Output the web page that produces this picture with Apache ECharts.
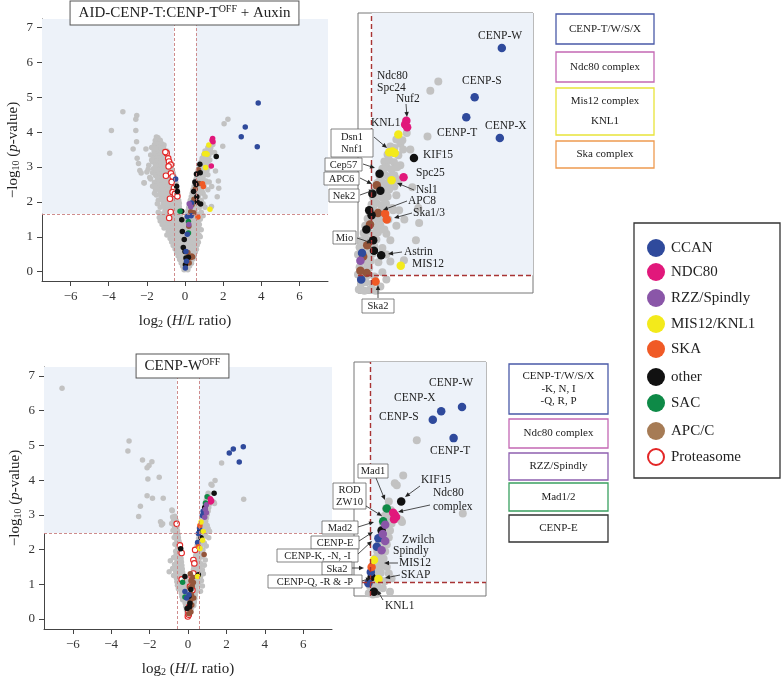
<!DOCTYPE html>
<html><head><meta charset="utf-8">
<script src="https://cdn.jsdelivr.net/npm/echarts@6/dist/echarts.min.js"></script>
<style>html,body{margin:0;padding:0;background:#fff}#c{width:781px;height:678px}</style>
</head><body><div id="c"></div>
<script>
// ---------------- data ----------------
const xTicks = [-6, -4, -2, 0, 2, 4, 6];
const yTicks = [0, 1, 2, 3, 4, 5, 6, 7];
const foldCut = 0.585;           // log2(1.5)
const topThreshold = 1.66;
const botThreshold = 2.48;
const topTitle = 'AID-CENP-T:CENP-T{sup|OFF} + Auxin';
const botTitle = 'CENP-W{sup|OFF}';
const legendNames = ['CCAN','NDC80','RZZ/Spindly','MIS12/KNL1','SKA','other','SAC','APC/C','Proteasome'];

const topGray = [
[-1.5,3.86],[-1.42,3.84],
[-1.56,3.76],[-1.43,3.74],[-1.3,3.77],
[-1.6,3.65],[-1.46,3.66],[-1.35,3.64],[-1.22,3.67],[-1.1,3.63],
[-1.75,3.56],[-1.55,3.54],[-1.4,3.57],[-1.25,3.55],[-1.12,3.53],
[-1.62,3.46],[-1.48,3.44],[-1.35,3.47],[-1.2,3.45],[-1.08,3.43],[-0.95,3.46],
[-1.8,3.35],[-1.55,3.36],[-1.4,3.34],[-1.28,3.37],[-1.15,3.33],[-1.02,3.36],
[-1.65,3.26],[-1.5,3.24],[-1.36,3.27],[-1.22,3.25],[-1.1,3.23],[-0.95,3.26],[-1.75,3.2],
[-1.7,3.15],[-1.45,3.17],[-1.3,3.14],[-1.18,3.16],[-1.05,3.13],[-0.8,3.15],
[-1.9,3.05],[-1.55,3.06],[-1.4,3.04],[-1.25,3.07],[-1.12,3.03],[-0.98,3.05],[-0.72,3.02],
[-1.65,2.95],[-1.6,2.95],[-1.45,2.97],[-1.32,2.94],[-1.2,2.96],[-1.05,2.93],[-0.9,2.95],[-0.68,2.92],
[-2.0,2.86],[-1.7,2.84],[-1.5,2.87],[-1.35,2.85],[-1.22,2.83],[-1.1,2.86],[-0.95,2.84],[-0.62,2.82],
[-1.55,2.76],[-1.4,2.74],[-1.28,2.77],[-1.15,2.75],[-1.02,2.73],[-0.88,2.76],[-0.58,2.74],[-1.85,2.7],
[-1.8,2.66],[-1.45,2.64],[-1.32,2.67],[-1.2,2.65],[-1.08,2.63],[-0.95,2.66],[-0.8,2.64],[-0.52,2.65],
[-2.15,2.55],[-1.6,2.56],[-1.38,2.54],[-1.25,2.57],[-1.12,2.53],[-0.98,2.56],[-0.85,2.54],[-0.6,2.57],[-0.48,2.55],
[-1.7,2.45],[-1.5,2.45],[-1.3,2.47],[-1.18,2.44],[-1.05,2.46],[-0.92,2.43],[-0.78,2.46],[-0.55,2.44],[-0.45,2.46],
[-1.55,2.35],[-1.35,2.35],[-1.22,2.37],[-1.1,2.34],[-0.98,2.36],[-0.85,2.33],[-0.72,2.36],[-0.5,2.34],[-0.42,2.36],
[-1.6,2.25],[-1.3,2.26],[-1.15,2.24],[-1.02,2.27],[-0.9,2.23],[-0.78,2.26],[-0.65,2.24],[-0.5,2.26],[-0.38,2.24],
[-1.5,2.2],[-1.25,2.15],[-1.12,2.17],[-1.0,2.14],[-0.88,2.16],[-0.75,2.13],[-0.62,2.16],[-0.48,2.14],[-0.36,2.16],
[-1.4,2.05],[-1.2,2.06],[-1.05,2.04],[-0.92,2.07],[-0.8,2.03],[-0.68,2.06],[-0.55,2.04],[-0.42,2.06],[-0.33,2.04],
[-1.45,1.95],[-1.15,1.95],[-1.02,1.97],[-0.9,1.94],[-0.78,1.96],[-0.65,1.93],[-0.52,1.96],[-0.4,1.94],[-0.3,1.96],
[-1.3,1.85],[-1.08,1.86],[-0.95,1.84],[-0.82,1.87],[-0.7,1.83],[-0.58,1.86],[-0.45,1.84],[-0.3,1.86],
[-1.4,1.7],[-1.05,1.75],[-0.92,1.77],[-0.8,1.74],[-0.68,1.76],[-0.55,1.73],[-0.42,1.76],[-0.28,1.74],
[-1.2,1.65],[-0.98,1.66],[-0.85,1.64],[-0.72,1.67],[-0.6,1.63],[-0.48,1.66],[-0.36,1.64],[-0.25,1.66],
[-1.35,1.55],[-1.1,1.55],[-0.95,1.56],[-0.82,1.54],[-0.7,1.57],[-0.58,1.53],[-0.46,1.56],[-0.34,1.54],[-0.22,1.56],
[-1.3,1.45],[-1.15,1.46],[-1.0,1.44],[-0.86,1.46],[-0.72,1.43],[-0.58,1.46],[-0.44,1.44],[-0.3,1.46],[-0.16,1.44],[-0.02,1.46],[0.12,1.44],[0.26,1.46],[0.4,1.44],[0.54,1.46],[0.68,1.44],
[-1.2,1.35],[-1.05,1.36],[-0.9,1.34],[-0.76,1.36],[-0.62,1.33],[-0.48,1.36],[-0.34,1.34],[-0.2,1.36],[-0.06,1.34],[0.08,1.36],[0.22,1.34],[0.36,1.36],[0.5,1.34],[0.64,1.36],
[-1.1,1.25],[-0.95,1.26],[-0.8,1.24],[-0.66,1.26],[-0.52,1.23],[-0.38,1.26],[-0.24,1.24],[-0.1,1.26],[0.04,1.24],[0.18,1.26],[0.32,1.24],[0.46,1.26],[0.6,1.24],[0.72,1.26],
[-0.88,1.15],[-0.74,1.16],[-0.6,1.14],[-0.46,1.16],[-0.32,1.13],[-0.18,1.16],[-0.04,1.14],[0.1,1.16],[0.24,1.14],[0.38,1.16],[0.52,1.14],[0.66,1.16],
[-0.95,1.05],[-0.8,1.06],[-0.66,1.04],[-0.52,1.06],[-0.38,1.03],[-0.24,1.06],[-0.1,1.04],[0.04,1.06],[0.18,1.04],[0.32,1.06],[0.46,1.04],[0.6,1.06],[0.74,1.04],
[-0.78,0.95],[-0.64,0.96],[-0.5,0.94],[-0.36,0.96],[-0.22,0.93],[-0.08,0.96],[0.06,0.94],[0.2,0.96],[0.34,0.94],[0.48,0.96],[0.62,0.94],
[-0.7,0.85],[-0.56,0.86],[-0.42,0.84],[-0.28,0.86],[-0.14,0.83],[0.0,0.86],[0.14,0.84],[0.28,0.86],[0.42,0.84],[0.56,0.86],[0.7,0.84],
[-0.62,0.75],[-0.48,0.76],[-0.34,0.74],[-0.2,0.76],[-0.06,0.73],[0.08,0.76],[0.22,0.74],[0.36,0.76],[0.5,0.74],[0.64,0.76],
[-0.52,0.65],[-0.38,0.66],[-0.24,0.64],[-0.1,0.66],[0.04,0.63],[0.18,0.66],[0.32,0.64],[0.46,0.66],[0.6,0.64],
[-0.44,0.55],[-0.3,0.56],[-0.16,0.54],[-0.02,0.56],[0.12,0.53],[0.26,0.56],[0.4,0.54],[0.54,0.56],
[-0.36,0.45],[-0.22,0.46],[-0.08,0.44],[0.06,0.46],[0.2,0.43],[0.34,0.46],[0.48,0.44],
[-0.28,0.35],[-0.14,0.36],[0.0,0.34],[0.14,0.36],[0.28,0.33],[0.42,0.36],
[-0.2,0.25],[-0.06,0.26],[0.08,0.24],[0.22,0.26],[0.34,0.24],
[-0.12,0.15],[0.0,0.16],[0.12,0.14],[0.24,0.16],
[-0.05,0.05],[0.05,0.06],[0.15,0.05],
[1.2,3.56],[1.3,3.5],[1.35,3.55],
[1.05,3.46],[1.15,3.44],
[0.98,3.35],[1.1,3.37],[1.25,3.34],
[0.9,3.25],[1.02,3.27],[1.14,3.24],[1.3,3.2],
[0.85,3.15],[0.96,3.17],[1.08,3.14],
[0.78,3.05],[0.9,3.07],[1.0,3.04],[1.15,3.06],[1.25,3.0],
[0.72,2.95],[0.84,2.97],[0.95,2.94],[1.08,2.96],
[0.68,2.85],[0.8,2.87],[0.92,2.84],[1.02,2.86],[1.15,2.9],
[0.62,2.75],[0.74,2.77],[0.86,2.74],[0.98,2.76],[1.2,2.78],
[0.58,2.65],[0.7,2.67],[0.82,2.64],[0.94,2.66],[1.1,2.6],
[0.52,2.55],[0.64,2.57],[0.76,2.54],[0.88,2.56],
[0.48,2.45],[0.6,2.47],[0.72,2.44],[0.84,2.46],[1.0,2.44],
[0.42,2.35],[0.55,2.37],[0.68,2.34],[0.8,2.36],[1.2,2.35],
[0.38,2.25],[0.5,2.27],[0.62,2.24],[0.74,2.26],[0.95,2.24],[0.9,2.3],
[0.33,2.15],[0.45,2.17],[0.57,2.14],[0.7,2.16],[1.05,2.15],
[0.28,2.05],[0.4,2.07],[0.52,2.04],[0.65,2.06],[0.85,2.04],
[0.24,1.95],[0.36,1.97],[0.48,1.94],[0.6,1.96],[0.95,1.95],
[0.2,1.85],[0.32,1.87],[0.44,1.84],[0.56,1.86],[0.75,1.84],[1.05,1.85],
[0.16,1.75],[0.28,1.77],[0.4,1.74],[0.52,1.76],[0.85,1.7],
[0.12,1.65],[0.24,1.67],[0.36,1.64],[0.48,1.66],[0.65,1.64],[0.95,1.6],
[0.08,1.55],[0.2,1.57],[0.32,1.54],[0.44,1.56],[0.6,1.54],[0.8,1.5],
[0.75,1.35],[0.85,1.2],[0.8,1.0],
[-3.26,4.59],[-2.53,4.48],[-2.58,4.37],[-3.86,4.05],[-2.58,4.05],[-2.54,3.73],[-2.72,3.52],[-3.95,3.4],
[-2.05,3.52],[-2.51,3.25],[-2.44,3.1],[-2.37,2.9],[-2.3,2.83],[-1.93,2.94],[-2.14,2.54],[-1.53,3.53],
[2.05,4.24],[2.25,4.37],[1.98,3.6],[1.46,3.65],[1.55,3.42],[1.37,3.42],[1.22,3.17],[1.6,2.89],
[1.27,2.57],[1.12,2.57],[1.4,2.44],[1.77,2.39],[1.69,2.15],[1.39,1.87],[1.75,2.6]
];
const topCCAN  = [[3.84,4.84],[3.16,4.15],[2.95,3.87],[3.79,3.58],[-0.49,2.66],[0.34,1.97],[0.32,1.6],[0.12,1.58],[0.12,1.07],[0.05,0.58],[0.08,0.3],[0.02,0.1]];
const topNDC80 = [[1.45,3.82],[1.42,3.77],[1.47,3.73],[1.38,3.03]];
const topRZZ   = [[0.3,1.86],[0.22,1.95],[0.2,1.35]];
const topMIS12 = [[1.25,3.63],[1.02,3.38],[1.1,3.39],[1.16,3.37],[1.08,2.99],[1.31,1.79]];
const topSKA   = [[0.92,2.52],[0.96,2.44],[0.68,1.57]];
const topOther = [[1.64,3.3],[0.78,3.08],[0.8,2.84],[0.6,2.8],[0.52,2.57],[0.58,2.5],[0.45,2.3],[0.62,2.15],[0.64,2.0],[0.82,1.94],
                  [-0.44,2.45],[-0.4,2.3],[-0.17,1.73],[-0.17,1.49],[-0.14,1.15],[-0.04,0.92],[-0.09,0.69],[0.0,0.58],[0.05,0.39],[0.18,0.41],[0.02,0.2]];
const topSAC   = [[-0.26,1.73],[0.18,1.44],[0.18,1.11]];
const topAPC   = [[0.71,2.92],[0.74,2.53],[0.54,2.37],[0.47,2.08],[0.37,1.92],[0.46,1.69],[0.3,1.72],[0.35,0.45],[0.28,0.4],[0.2,1.3],[0.15,0.55],[0.4,0.42],[0.22,0.25]];
const topProt  = [[-0.96,3.4],[-1.03,3.43],[-0.88,3.25],[-0.84,3.16],[-0.75,3.07],[-0.86,3.02],[-0.74,2.82],[-1.0,2.75],[-0.65,2.73],[-0.7,2.57],
                  [-0.58,2.4],[-0.65,2.28],[-0.53,2.23],[-0.79,2.09],[-0.75,1.71],[-0.83,1.54],[-0.4,2.16]];

const botGray = [
[-0.82,3.12],[-0.68,2.96],[-0.8,2.94],
[-0.75,2.86],[-0.62,2.84],
[-0.72,2.76],[-0.6,2.74],[-0.85,2.75],
[-0.7,2.66],[-0.58,2.64],
[-0.66,2.56],[-0.55,2.54],[-0.78,2.55],
[-0.64,2.46],[-0.52,2.44],
[-0.6,2.36],[-0.5,2.34],[-0.72,2.35],
[-0.58,2.26],[-0.47,2.24],
[-0.56,2.16],[-0.45,2.14],[-0.68,2.15],
[-0.54,2.06],[-0.43,2.04],
[-0.52,1.96],[-0.4,1.94],[-0.64,1.95],
[-0.5,1.86],[-0.38,1.84],[-0.62,1.85],
[-0.48,1.76],[-0.36,1.74],[-0.6,1.75],[-0.75,1.77],
[-0.46,1.66],[-0.34,1.64],[-0.58,1.65],[-0.92,1.68],
[-0.44,1.56],[-0.32,1.54],[-0.56,1.55],[-0.7,1.57],
[-0.42,1.46],[-0.3,1.44],[-0.54,1.45],[-0.68,1.47],[-0.8,1.45],
[-0.4,1.36],[-0.28,1.34],[-0.52,1.35],[-0.64,1.37],[-0.98,1.36],
[-0.38,1.26],[-0.26,1.24],[-0.5,1.25],[-0.62,1.27],[-0.75,1.25],
[-0.36,1.16],[-0.24,1.14],[-0.12,1.16],[-0.48,1.15],[-0.6,1.17],
[-0.34,1.06],[-0.22,1.04],[-0.1,1.06],[-0.46,1.05],[-0.58,1.07],
[-0.3,0.96],[-0.18,0.94],[-0.06,0.96],[-0.42,0.95],[-0.55,0.97],
[-0.27,0.86],[-0.15,0.84],[-0.03,0.86],[-0.38,0.85],[-0.5,0.87],
[-0.24,0.76],[-0.12,0.74],[0.0,0.76],[-0.35,0.75],
[-0.22,0.66],[-0.1,0.64],[0.02,0.66],[-0.32,0.65],
[-0.18,0.56],[-0.06,0.54],[0.04,0.56],[-0.28,0.55],
[-0.15,0.46],[-0.04,0.44],[0.06,0.46],
[-0.12,0.36],[-0.02,0.34],[0.06,0.36],
[-0.08,0.26],[0.0,0.24],
[-0.05,0.16],[0.02,0.14],
[1.05,3.62],
[0.98,3.52],[1.1,3.5],
[0.95,3.42],[1.05,3.4],[1.28,3.38],[1.35,3.36],
[0.9,3.32],[1.02,3.3],[1.12,3.31],
[0.88,3.22],[0.98,3.2],[1.08,3.21],
[0.84,3.12],[0.95,3.1],[1.05,3.11],
[0.8,3.02],[0.9,3.0],[1.0,3.01],
[0.76,2.92],[0.86,2.9],[0.96,2.91],
[0.72,2.82],[0.82,2.8],[0.92,2.81],
[0.68,2.72],[0.78,2.7],[0.88,2.71],[1.0,2.69],
[0.65,2.62],[0.75,2.6],[0.85,2.61],[1.05,2.6],
[0.62,2.52],[0.72,2.5],[0.82,2.51],[0.95,2.49],
[0.58,2.42],[0.68,2.4],[0.78,2.41],[0.9,2.39],
[0.55,2.32],[0.65,2.3],[0.75,2.31],
[0.52,2.22],[0.62,2.2],[0.72,2.21],[0.85,2.19],
[0.48,2.12],[0.58,2.1],[0.68,2.11],[0.95,2.1],
[0.45,2.02],[0.55,2.0],[0.65,2.01],[0.78,1.99],
[0.42,1.92],[0.52,1.9],[0.62,1.91],
[0.4,1.82],[0.5,1.8],[0.6,1.81],[0.72,1.79],
[0.37,1.72],[0.47,1.7],[0.57,1.71],[0.9,1.7],
[0.34,1.62],[0.44,1.6],[0.54,1.61],[0.68,1.59],
[0.3,1.52],[0.4,1.5],[0.5,1.51],[0.62,1.49],[0.85,1.55],
[0.28,1.42],[0.38,1.4],[0.48,1.41],[0.58,1.39],[0.75,1.41],
[0.25,1.32],[0.35,1.3],[0.45,1.31],[0.55,1.29],[0.8,1.3],
[0.22,1.22],[0.32,1.2],[0.42,1.21],[0.52,1.19],[0.65,1.21],
[0.18,1.12],[0.28,1.1],[0.38,1.11],[0.48,1.09],[0.7,1.1],
[0.15,1.02],[0.25,1.0],[0.35,1.01],[0.45,0.99],[0.55,1.01],
[0.12,0.92],[0.22,0.9],[0.32,0.91],[0.42,0.89],[0.75,0.95],
[0.1,0.82],[0.2,0.8],[0.3,0.81],[0.4,0.79],[0.65,0.8],
[0.08,0.72],[0.18,0.7],[0.28,0.71],[0.38,0.69],
[0.06,0.62],[0.16,0.6],[0.26,0.61],[0.36,0.59],
[0.05,0.52],[0.14,0.5],[0.24,0.51],[0.33,0.49],
[0.04,0.42],[0.12,0.4],[0.2,0.41],[0.3,0.39],
[0.03,0.32],[0.1,0.3],[0.18,0.31],
[0.02,0.22],[0.08,0.2],[0.14,0.21],
[0.0,0.12],[0.06,0.1],
[-6.56,6.65],[-3.07,5.13],[-3.13,4.84],[-2.37,4.58],[-1.88,4.53],[-2.03,4.42],[-2.13,4.36],[-2.09,4.03],[-1.5,4.08],
[-2.13,3.55],[-1.85,3.48],[-1.29,3.48],[-2.48,3.25],[-2.57,2.95],[-0.84,3.14],[-1.43,2.8],[-1.32,2.74],[-1.38,2.71],
[1.75,4.49],[1.41,3.99],[1.2,3.88],[1.25,3.85],[2.9,3.45],[1.38,3.33],[1.12,2.53],[1.08,2.34]
];
const botCCAN  = [[2.15,4.78],[2.36,4.9],[2.88,4.96],[2.67,4.52],[0.79,3.1],[0.75,2.98],[0.6,2.62],[0.54,2.46],[0.5,2.2],[-0.16,0.79],[-0.07,0.6],[0.05,0.7]];
const botNDC80 = [[1.2,3.43],[1.16,3.46],[1.23,3.4],[1.18,3.37]];
const botRZZ   = [[0.96,3.29],[0.96,3.06],[0.87,2.93],[0.9,3.16]];
const botMIS12 = [[0.68,2.79],[0.79,2.52],[0.76,2.27],[0.62,2.03],[0.5,1.22]];
const botSKA   = [[0.62,2.69],[0.54,2.08]];
const botOther = [[1.36,3.62],[0.87,3.21],[0.62,2.55],[0.68,2.34],[0.54,1.27],[-0.16,1.22],[-0.38,2.02],[0.05,0.65],[0.1,0.45],[-0.05,0.3],[0.15,0.85],[0.08,0.35]];
const botSAC   = [[1.0,3.52],[0.91,3.34],[-0.28,1.06],[-0.16,0.63]];
const botAPC   = [[0.84,1.86],[0.25,1.2],[0.12,1.3],[0.15,1.1],[0.22,0.95],[0.1,0.9],[0.18,0.7],[0.12,0.5],[0.2,0.4],[0.08,0.3],[0.15,0.2],[0.05,0.15],[0.28,1.05],[0.3,0.6]];
const botProt  = [[-0.59,2.74],[-0.42,2.12],[-0.33,1.9],[-0.33,1.14],[0.19,1.22],[0.28,1.7],[0.37,1.99],[0.33,1.6],[0.28,1.31],[0.23,0.83],[0.14,0.59],[0.06,0.35],[0.02,0.21],[-0.01,0.07],[0.1,0.93],[0.04,0.12]];

// annotation texts
const topZoomLabels = [['CENP-W',478,36],['Ndc80',377,76],['Spc24',377,88],['Nuf2',396,99],['CENP-S',462,81],['KNL1',371,123],
  ['CENP-T',437,133],['CENP-X',485,126],['KIF15',423,155],['Spc25',416,173],['Nsl1',416,190],['APC8',408,201],['Ska1/3',413,213],
  ['Astrin',404,252],['MIS12',412,264]];
const topBoxLabels = [['Dsn1\nNnf1',331,129,42,28],['Cep57',325,158,37,13],['APC6',324,172,35,13],['Nek2',329,189,30,13],['Mio',333,231,23,13],['Ska2',362,299,32,14]];
const topArrows = [[406,104,407,117],[374,137,387,148],[363,164,375,168],[360,178,372,184],[360,195,374,190],[414,190,397,183],
  [407,201,383,210],[412,213,394,218],[357,238,372,243],[402,252,388,254],[378,298,378,285]];
const botZoomLabels = [['CENP-W',429,383],['CENP-X',394,398],['CENP-S',379,417],['CENP-T',430,451],['KIF15',421,480],['Ndc80',433,493],
  ['complex',433,507],['Zwilch',402,540],['Spindly',393,551],['MIS12',399,563],['SKAP',401,575],['KNL1',385,606]];
const botBoxLabels = [['Mad1',358,464,30,14],['ROD\nZW10',333,483,33,26],['Mad2',322,521,36,13],['CENP-E',311,536,48,13],
  ['CENP-K, -N, -I',277,549,81,13],['Ska2',322,562,30,13],['CENP-Q, -R & -P',268,575,94,13]];
const botArrows = [[376,478,385,500],[420,486,405,497],[430,505,398,512],[366,506,382,516],[358,527,374,522],[359,541,373,532],
  [358,554,372,541],[352,568,364,568],[362,581,371,578],[398,563,384,563],[400,575,385,578],[383,600,377,590]];
const topGroups = [['CENP-T/W/S/X',14,30,'#4a5aa8'],['Ndc80 complex',52,30,'#c468b4'],['Mis12 complex\nKNL1',88,47,'#e8e43a'],['Ska complex',141,27,'#ee9a50']];
const botGroups = [['CENP-T/W/S/X\n-K, N, I\n-Q, R, P',364,50,'#4a5aa8'],['Ndc80 complex',419,29,'#c468b4'],['RZZ/Spindly',453,27,'#8e60b0'],['Mad1/2',483,28,'#3aa060'],['CENP-E',515,27,'#333333']];

// ---------------- styling ----------------
const FONT = '"Liberation Serif","Times New Roman",serif';
const COL = {gray:'#c2c2c2', ccan:'#2f4a9c', ndc80:'#e1187b', rzz:'#8a56a8', mis12:'#f3ea1b', ska:'#f05a26', other:'#111111', sac:'#0e8a47', apc:'#94553a', prot:'#e32626'};
const legendColors = [COL.ccan, COL.ndc80, COL.rzz, COL.mis12, COL.ska, COL.other, COL.sac, '#a67b55', COL.prot];
const SHADE = '#edf2f9';
const minus = v => String(v).replace('-', '\u2212');

const layers = [
  ['gray', topGray, botGray, false],
  ['prot', topProt, botProt, true],
  ['apc', topAPC, botAPC, false],
  ['other', topOther, botOther, false],
  ['sac', topSAC, botSAC, false],
  ['ccan', topCCAN, botCCAN, false],
  ['rzz', topRZZ, botRZZ, false],
  ['ska', topSKA, botSKA, false],
  ['mis12', topMIS12, botMIS12, false],
  ['ndc80', topNDC80, botNDC80, false]
];
const gridRanges = [
  {x:[-7.5,7.5], y:[-0.27,7.25], thr:topThreshold, zoom:false},
  {x:[-7.5,7.5], y:[-0.29,7.26], thr:botThreshold, zoom:false},
  {x:[0.24,4.62], y:[1.41,5.33], thr:topThreshold, zoom:true},
  {x:[0.18,3.48], y:[2.28,5.6], thr:botThreshold, zoom:true}
];

const series = [];
gridRanges.forEach((g, i) => {
  const areas = g.zoom
    ? [[{coord:[foldCut, g.thr]}, {coord:[g.x[1], g.y[1]]}]]
    : [[{coord:[g.x[0], g.thr]}, {coord:[-foldCut, g.y[1]]}], [{coord:[foldCut, g.thr]}, {coord:[g.x[1], g.y[1]]}]];
  const lines = g.zoom ? [{xAxis: foldCut}, {yAxis: g.thr}] : [{xAxis: -foldCut}, {xAxis: foldCut}, {yAxis: g.thr}];
  series.push({type:'scatter', xAxisIndex:i, yAxisIndex:i, data:[], silent:true, z:1,
    markArea:{silent:true, itemStyle:{color:SHADE}, data:areas},
    markLine:{silent:true, symbol:['none','none'], label:{show:false},
      lineStyle: g.zoom ? {type:[5,3], color:'#a83434', width:1.4} : {type:[3,2], color:'#c98080', width:0.9},
      data:lines}});
  layers.forEach(([key, tData, bData, hollow]) => {
    const data = (i % 2 === 0) ? tData : bData;
    const size = g.zoom ? (key === 'gray' ? 8 : 8.5) : (key === 'gray' ? 5.5 : 5.5);
    series.push({type:'scatter', xAxisIndex:i, yAxisIndex:i, data, symbolSize:size, silent:true, z:2,
      itemStyle: hollow ? {color:'#ffffff', borderColor:COL[key], borderWidth: g.zoom ? 1.6 : 1.1, opacity:1}
                        : {color:COL[key], opacity:1}});
  });
});

const axisName = {fontFamily:FONT, fontSize:15, color:'#222',
  rich:{s:{fontFamily:FONT, fontSize:10, padding:[6,0,0,0]}, i:{fontFamily:FONT, fontSize:15, fontStyle:'italic'}}};
function mainX(i){ return {gridIndex:i, type:'value', min:-7.5, max:7.5,
  axisLine:{show:true, onZero:false, lineStyle:{color:'#444', width:1}},
  axisTick:{show:true, length:5, customValues:xTicks, lineStyle:{color:'#444'}},
  axisLabel:{customValues:xTicks, formatter:minus, fontFamily:FONT, fontSize:13, color:'#333', margin:9},
  splitLine:{show:false},
  name:'log{s|2} ({i|H}/{i|L} ratio)', nameLocation:'middle', nameGap:32, nameTextStyle:axisName}; }
function mainY(i, r){ return {gridIndex:i, type:'value', min:r[0], max:r[1],
  axisLine:{show:true, onZero:false, lineStyle:{color:'#444', width:1}},
  axisTick:{show:true, length:5, customValues:yTicks, lineStyle:{color:'#444'}},
  axisLabel:{customValues:yTicks, fontFamily:FONT, fontSize:13, color:'#333', margin:9},
  splitLine:{show:false},
  name:'\u2212log{s|10} ({i|p}-value)', nameLocation:'middle', nameGap:21, nameRotate:90, nameTextStyle:axisName}; }

// ---------------- graphics ----------------
const graphic = [];
function txt(text, x, y, opts){ graphic.push(Object.assign({type:'text', x, y, z:50, silent:true,
  style:Object.assign({text, fontFamily:FONT, fontSize:11.5, fill:'#222', align:'left', verticalAlign:'middle'}, opts||{})})); }
function rect(x, y, w, h, stroke, lw){ graphic.push({type:'rect', z:49, silent:true, shape:{x, y, width:w, height:h},
  style:{fill:'#fff', stroke, lineWidth:lw||1}}); }
function arrow(x1, y1, x2, y2){
  const a = Math.atan2(y2-y1, x2-x1), L = 5, W = 2.2, c = Math.cos(a), s = Math.sin(a);
  graphic.push({type:'line', z:50, silent:true, shape:{x1, y1, x2:x2-L*c*0.6, y2:y2-L*s*0.6}, style:{stroke:'#222', lineWidth:0.8}});
  graphic.push({type:'polygon', z:50, silent:true, shape:{points:[[x2,y2],[x2-L*c+W*s, y2-L*s-W*c],[x2-L*c-W*s, y2-L*s+W*c]]}, style:{fill:'#222'}});
}
// panel titles
txt(topTitle, 184.5, 13, {align:'center', fontSize:15, padding:[3,8,2,8], backgroundColor:'#fff', borderColor:'#555', borderWidth:1,
  rich:{sup:{fontFamily:FONT, fontSize:10, padding:[0,0,8,0]}}});
txt(botTitle, 182.5, 366, {align:'center', fontSize:15, padding:[3,8,2,8], backgroundColor:'#fff', borderColor:'#555', borderWidth:1,
  rich:{sup:{fontFamily:FONT, fontSize:10, padding:[0,0,8,0]}}});
// zoom panel labels
topZoomLabels.concat(botZoomLabels).forEach(([t, x, y]) => txt(t, x, y));
topBoxLabels.concat(botBoxLabels).forEach(([t, x, y, w, h]) => { rect(x, y, w, h, '#666', 0.8); txt(t, x + w/2, y + h/2 + 0.5, {align:'center', fontSize:10.5, lineHeight:12}); });
topArrows.concat(botArrows).forEach(a => arrow(...a));
// group boxes
topGroups.forEach(([t, y, h, c]) => { rect(556, y, 98, h, c, 1.3); txt(t, 605, y + h/2, {align:'center', fontSize:11, lineHeight:20}); });
botGroups.forEach(([t, y, h, c]) => { rect(509, y, 99, h, c, 1.3); txt(t, 558.5, y + h/2, {align:'center', fontSize:11, lineHeight:12.5}); });
// legend
rect(634, 223, 146, 255, '#333', 1.3);
const legendY = [248, 272, 298, 324, 349, 377, 403, 431, 457];
legendNames.forEach((n, k) => {
  const hollow = n === 'Proteasome';
  graphic.push({type:'circle', z:50, silent:true, shape:{cx:656, cy:legendY[k], r: hollow ? 8 : 9},
    style: hollow ? {fill:'#fff', stroke:legendColors[k], lineWidth:2} : {fill:legendColors[k]}});
  txt(n, 671, legendY[k], {fontSize:15});
});

const option = {
  animation:false,
  backgroundColor:'#fff',
  grid:[
    {left:42, top:19, width:286, height:262},
    {left:44, top:367, width:288, height:262},
    {left:358, top:13, width:175, height:280, show:true, borderColor:'#777', borderWidth:1, backgroundColor:'#fff'},
    {left:354, top:362, width:132, height:234, show:true, borderColor:'#777', borderWidth:1, backgroundColor:'#fff'}
  ],
  xAxis:[mainX(0), mainX(1),
    {gridIndex:2, type:'value', min:gridRanges[2].x[0], max:gridRanges[2].x[1], show:false},
    {gridIndex:3, type:'value', min:gridRanges[3].x[0], max:gridRanges[3].x[1], show:false}],
  yAxis:[mainY(0, gridRanges[0].y), mainY(1, gridRanges[1].y),
    {gridIndex:2, type:'value', min:gridRanges[2].y[0], max:gridRanges[2].y[1], show:false},
    {gridIndex:3, type:'value', min:gridRanges[3].y[0], max:gridRanges[3].y[1], show:false}],
  series,
  graphic
};
const chart = echarts.init(document.getElementById('c'), null, {renderer:'canvas'});
chart.setOption(option);
</script></body></html>
